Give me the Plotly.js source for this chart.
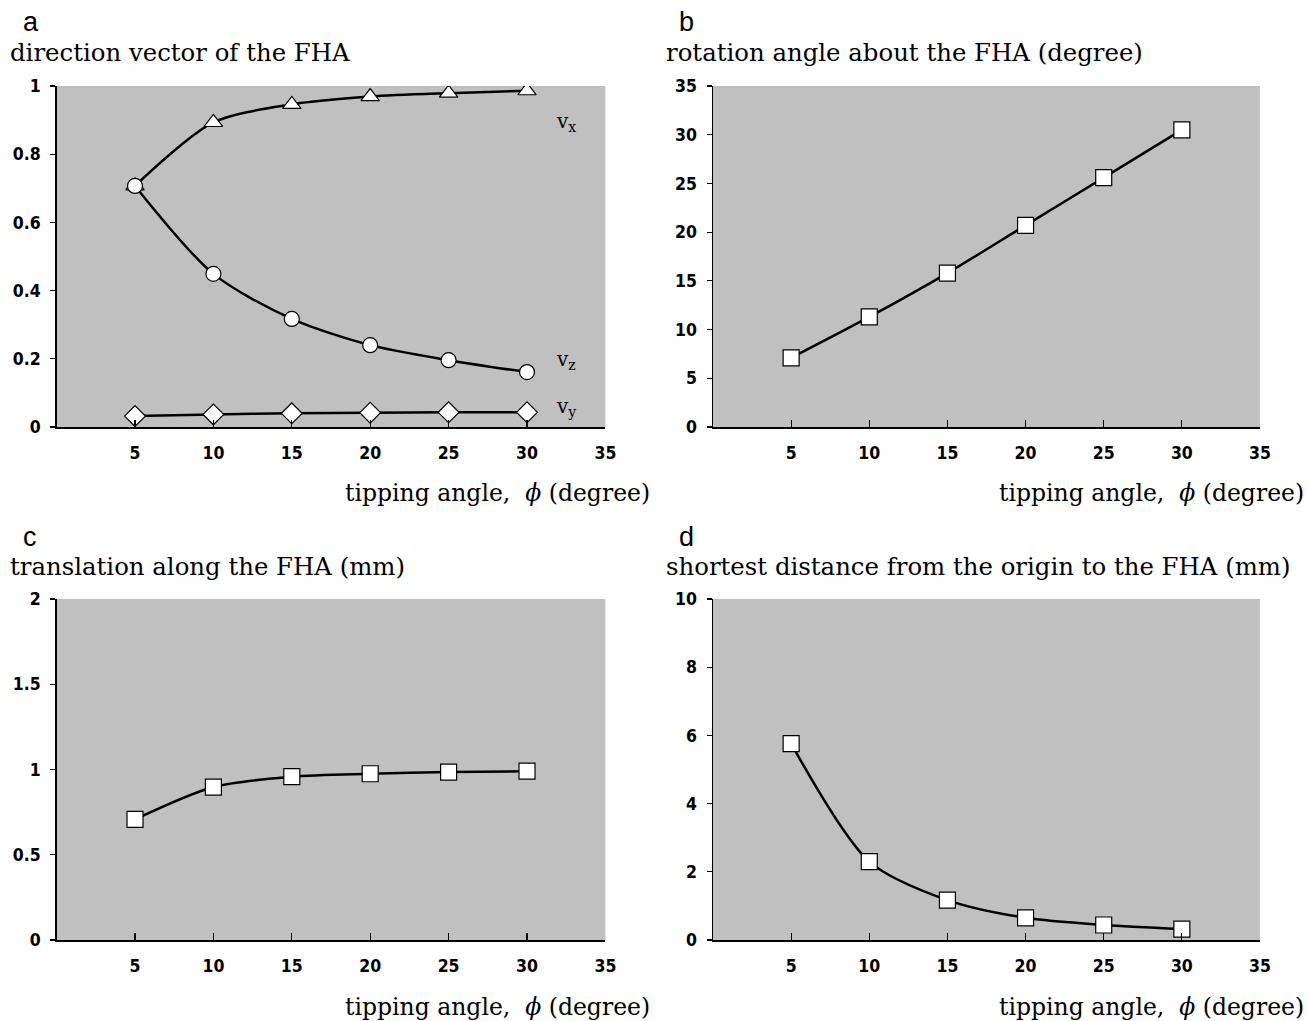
<!DOCTYPE html>
<html>
<head>
<meta charset="utf-8">
<script src="https://cdn.plot.ly/plotly-3.0.1.min.js"></script>
<style>html,body{margin:0;padding:0;background:#fff}#chart{width:1309px;height:1021px}</style>
</head>
<body>
<div id="chart"></div>
<script>
// ---- data ----
var tippingAngle = [5, 10, 15, 20, 25, 30];
var vx = [0.707, 0.893, 0.946, 0.969, 0.979, 0.986];
var vz = [0.707, 0.449, 0.317, 0.240, 0.196, 0.161];
var vy = [0.032, 0.037, 0.040, 0.042, 0.043, 0.043];
var rotationAngle = [7.1, 11.3, 15.8, 20.7, 25.6, 30.5];
var translation = [0.707, 0.897, 0.958, 0.975, 0.985, 0.990];
var shortestDistance = [5.76, 2.30, 1.17, 0.65, 0.44, 0.32];

var xTickVals = [5, 10, 15, 20, 25, 30, 35];
var yTicksA = [0, 0.2, 0.4, 0.6, 0.8, 1];
var yTicksB = [0, 5, 10, 15, 20, 25, 30, 35];
var yTicksC = [0, 0.5, 1, 1.5, 2];
var yTicksD = [0, 2, 4, 6, 8, 10];

var panelLetters = ['a', 'b', 'c', 'd'];
var panelTitles = ['direction vector of the FHA', 'rotation angle about the FHA (degree)',
                   'translation along the FHA (mm)', 'shortest distance from the origin to the FHA (mm)'];
var xTitle = 'tipping angle,  <i>ϕ</i> (degree)';
var seriesLabels = ['v<sub>x</sub>', 'v<sub>z</sub>', 'v<sub>y</sub>'];

// ---- styling ----
var W = 1309, H = 1021;
function px2x(p) { return p / W; }
function py2y(p) { return 1 - p / H; }

var lineStyle = {color: '#000', width: 2.5, shape: 'spline', smoothing: 0.8};
function mk(sym, size) { return {symbol: sym, size: size, color: '#fff', line: {color: '#000', width: 1.2}}; }

var traces = [
  {x: tippingAngle, y: vx, mode: 'lines+markers', line: lineStyle, marker: mk('triangle-up', 16), xaxis: 'x', yaxis: 'y'},
  {x: tippingAngle, y: vz, mode: 'lines+markers', line: lineStyle, marker: mk('circle', 15), xaxis: 'x', yaxis: 'y'},
  {x: tippingAngle, y: vy, mode: 'lines+markers', line: lineStyle, marker: mk('diamond', 16), xaxis: 'x', yaxis: 'y'},
  {x: tippingAngle, y: rotationAngle, mode: 'lines+markers', line: lineStyle, marker: mk('square', 16), xaxis: 'x2', yaxis: 'y2'},
  {x: tippingAngle, y: translation, mode: 'lines+markers', line: lineStyle, marker: mk('square', 16), xaxis: 'x3', yaxis: 'y3'},
  {x: tippingAngle, y: shortestDistance, mode: 'lines+markers', line: lineStyle, marker: mk('square', 16), xaxis: 'x4', yaxis: 'y4'}
];

var tickFont = {family: 'Liberation Sans Narrow, DejaVu Sans Condensed, Liberation Sans, sans-serif', size: 17.5, color: '#000', weight: 'bold'};
function xa(domain, anchor) {
  return {domain: domain, anchor: anchor, range: [0, 35], tickmode: 'array', tickvals: xTickVals,
    ticks: 'inside', ticklen: 7, tickwidth: 1.2, tickcolor: '#000', showline: true, linecolor: '#000', linewidth: 1.5,
    showgrid: false, zeroline: false, tickfont: tickFont, ticklabelstandoff: 9, fixedrange: true};
}
function ya(domain, anchor, range, vals) {
  return {domain: domain, anchor: anchor, range: range, tickmode: 'array', tickvals: vals,
    ticks: 'outside', ticklen: 5, tickwidth: 1.2, tickcolor: '#000', showline: true, linecolor: '#000', linewidth: 1.5,
    showgrid: false, zeroline: false, tickfont: tickFont, ticklabelstandoff: 6, fixedrange: true};
}

var dxL = [px2x(56.6), px2x(605.4)];
var dxR = [px2x(713), px2x(1260)];
var dyT = [py2y(427), py2y(86)];
var dyB = [py2y(940), py2y(599)];

var serif = 'DejaVu Serif, Liberation Serif, serif';
var annotations = [];
var letterPos = [[21, 22], [677, 22], [21, 537], [677, 537]];
var titlePos = [[8, 52], [664, 52], [8, 566], [664, 566]];
var xTitlePos = [[652, 493], [1306, 493], [652, 1007], [1306, 1007]];
for (var i = 0; i < 4; i++) {
  annotations.push({text: panelLetters[i], xref: 'paper', yref: 'paper', x: px2x(letterPos[i][0]), y: py2y(letterPos[i][1]),
    xanchor: 'left', yanchor: 'middle', showarrow: false, font: {family: 'Liberation Sans, Arial, sans-serif', size: 27, color: '#000'}});
  annotations.push({text: panelTitles[i], xref: 'paper', yref: 'paper', x: px2x(titlePos[i][0]), y: py2y(titlePos[i][1]),
    xanchor: 'left', yanchor: 'middle', showarrow: false, font: {family: serif, size: 24.4, color: '#000'}});
  annotations.push({text: xTitle, xref: 'paper', yref: 'paper', x: px2x(xTitlePos[i][0]), y: py2y(xTitlePos[i][1]),
    xanchor: 'right', yanchor: 'middle', showarrow: false, font: {family: serif, size: 23.5, color: '#000'}});
}
var labelY = [0.894, 0.196, 0.059];
for (var j = 0; j < 3; j++) {
  annotations.push({text: seriesLabels[j], xref: 'x', yref: 'y', x: 31.7, y: labelY[j], xanchor: 'left', yanchor: 'middle',
    showarrow: false, font: {family: serif, size: 20, color: '#000'}});
}

var layout = {
  width: W, height: H, margin: {l: 0, r: 0, t: 0, b: 0}, paper_bgcolor: '#fff', plot_bgcolor: '#c0c0c0',
  showlegend: false,
  xaxis: xa(dxL, 'y'), yaxis: ya(dyT, 'x', [0, 1], yTicksA),
  xaxis2: xa(dxR, 'y2'), yaxis2: ya(dyT, 'x2', [0, 35], yTicksB),
  xaxis3: xa(dxL, 'y3'), yaxis3: ya(dyB, 'x3', [0, 2], yTicksC),
  xaxis4: xa(dxR, 'y4'), yaxis4: ya(dyB, 'x4', [0, 10], yTicksD),
  annotations: annotations
};

Plotly.newPlot('chart', traces, layout, {displayModeBar: false, staticPlot: true});
</script>
</body>
</html>
